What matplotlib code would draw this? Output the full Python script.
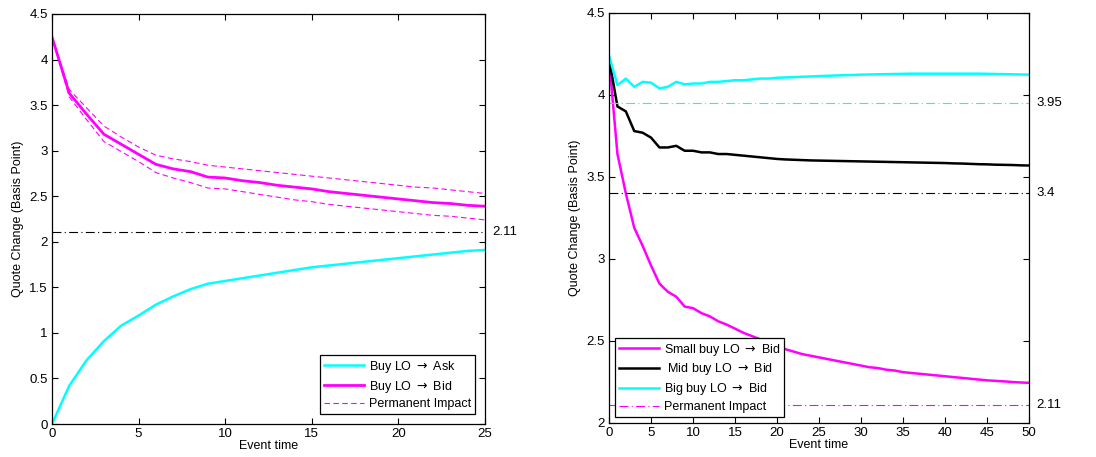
"""Quote change after buy limit orders"""
import matplotlib
matplotlib.use("Agg")
import matplotlib.pyplot as plt

plt.rcParams["font.family"] = ["Liberation Sans", "DejaVu Sans"]
plt.rcParams["mathtext.fontset"] = "dejavusans"

# left panel data
t_left = list(range(26))
ask = [0.00, 0.42, 0.70, 0.91, 1.08, 1.19, 1.31, 1.40, 1.48, 1.54, 1.57, 1.60, 1.63,
       1.66, 1.69, 1.72, 1.74, 1.76, 1.78, 1.80, 1.82, 1.84, 1.86, 1.88, 1.90, 1.91]
bid = [4.25, 3.63, 3.40, 3.18, 3.07, 2.96, 2.85, 2.80, 2.77, 2.71, 2.70, 2.67, 2.65,
       2.62, 2.60, 2.58, 2.55, 2.53, 2.51, 2.49, 2.47, 2.45, 2.43, 2.42, 2.40, 2.39]
bid_up = [4.25, 3.67, 3.47, 3.27, 3.15, 3.04, 2.95, 2.91, 2.88, 2.84, 2.82, 2.80, 2.78,
          2.76, 2.74, 2.72, 2.70, 2.68, 2.66, 2.64, 2.62, 2.60, 2.59, 2.57, 2.55, 2.53]
bid_lo = [4.25, 3.59, 3.34, 3.10, 2.99, 2.88, 2.76, 2.70, 2.65, 2.59, 2.58, 2.55, 2.52,
          2.49, 2.46, 2.44, 2.41, 2.39, 2.37, 2.35, 2.33, 2.31, 2.29, 2.28, 2.26, 2.24]
perm_left = 2.11

# right panel data
t_right = list(range(51))
small = [4.22, 3.64, 3.40, 3.19, 3.08, 2.96, 2.85, 2.80, 2.77, 2.71, 2.70, 2.67, 2.65,
         2.62, 2.60, 2.575, 2.55, 2.53, 2.51, 2.49, 2.465, 2.45, 2.435, 2.42, 2.41, 2.40,
         2.39, 2.38, 2.37, 2.36, 2.35, 2.34, 2.335, 2.325, 2.32, 2.31, 2.305, 2.30, 2.295,
         2.29, 2.285, 2.28, 2.275, 2.27, 2.265, 2.26, 2.257, 2.254, 2.25, 2.247, 2.245]
mid = [4.22, 3.93, 3.90, 3.78, 3.77, 3.74, 3.68, 3.68, 3.69, 3.66, 3.66, 3.65, 3.65,
       3.64, 3.64, 3.635, 3.63, 3.625, 3.62, 3.615, 3.61, 3.607, 3.605, 3.603, 3.601, 3.60,
       3.599, 3.598, 3.597, 3.596, 3.595, 3.594, 3.593, 3.592, 3.591, 3.59, 3.589, 3.588,
       3.587, 3.586, 3.585, 3.583, 3.582, 3.58, 3.578, 3.577, 3.575, 3.574, 3.573, 3.571, 3.57]
big = [4.24, 4.06, 4.10, 4.05, 4.08, 4.075, 4.04, 4.05, 4.08, 4.065, 4.07, 4.07, 4.08,
       4.08, 4.085, 4.09, 4.09, 4.095, 4.10, 4.10, 4.105, 4.107, 4.109, 4.111, 4.113, 4.115,
       4.117, 4.119, 4.121, 4.122, 4.124, 4.125, 4.126, 4.127, 4.128, 4.129, 4.13, 4.13,
       4.13, 4.13, 4.13, 4.13, 4.13, 4.13, 4.13, 4.129, 4.128, 4.127, 4.126, 4.125, 4.124]
perm_small, perm_mid, perm_big = 2.11, 3.4, 3.95

fig = plt.figure(figsize=(10.96, 4.57), dpi=100)
ax1 = fig.add_axes([0.0474, 0.0722, 0.3951, 0.8972])
ax2 = fig.add_axes([0.5557, 0.0744, 0.3832, 0.8972])


def style(ax):
    """matlab look"""
    ax.tick_params(direction="in", top=True, right=True, labelsize=9.5,
                   length=4, width=0.8, pad=3)
    for sp in ax.spines.values():
        sp.set_linewidth(0.9)
    ax.set_xlabel("Event time", fontsize=9, labelpad=0)
    ax.set_ylabel("Quote Change (Basis Point)", fontsize=9, labelpad=4)


# left panel
ax1.plot(t_left, ask, color="cyan", lw=1.8, label=r"Buy LO $\rightarrow$ Ask")
ax1.plot(t_left, bid, color="magenta", lw=2.0, label=r"Buy LO $\rightarrow$ Bid")
ax1.plot(t_left, bid_up, color="magenta", lw=0.8, ls=(0, (5, 3)), label="Permanent Impact")
ax1.plot(t_left, bid_lo, color="magenta", lw=0.8, ls=(0, (5, 3)))
ax1.axhline(perm_left, color="black", lw=0.8, ls=(0, (8, 3, 1, 3)))
ax1.text(25.4, perm_left, str(perm_left), va="center", ha="left", fontsize=9.5)
ax1.set_xlim(0, 25)
ax1.set_ylim(0, 4.5)
ax1.set_yticks([0, 0.5, 1, 1.5, 2, 2.5, 3, 3.5, 4, 4.5])
ax1.set_yticklabels(["0", "0.5", "1", "1.5", "2", "2.5", "3", "3.5", "4", "4.5"])
style(ax1)
leg1 = ax1.legend(loc="lower right", fontsize=9, fancybox=False, edgecolor="black",
                  framealpha=1, handlelength=3.2, borderaxespad=0.8, labelspacing=0.3,
                  borderpad=0.3, handletextpad=0.4)
leg1.get_frame().set_linewidth(0.9)

# right panel
ax2.plot(t_right, small, color="magenta", lw=1.8, label=r"Small buy LO $\rightarrow$ Bid")
ax2.plot(t_right, mid, color="black", lw=1.8, label=r" Mid buy LO $\rightarrow$ Bid")
ax2.plot(t_right, big, color="cyan", lw=1.8, label=r"Big buy LO $\rightarrow$ Bid")
ax2.axhline(perm_small, color="magenta", lw=0.8, ls=(0, (8, 3, 1, 3)), label="Permanent Impact")
ax2.axhline(perm_mid, color="black", lw=0.8, ls=(0, (8, 3, 1, 3)))
ax2.axhline(perm_big, color="cyan", lw=0.8, ls=(0, (8, 3, 1, 3)))
for val in [perm_big, perm_mid, perm_small]:
    ax2.text(50.9, val, str(val), va="center", ha="left", fontsize=9.5)
ax2.set_xlim(0, 50)
ax2.set_ylim(2, 4.5)
ax2.set_xticks(range(0, 51, 5))
ax2.set_yticks([2, 2.5, 3, 3.5, 4, 4.5])
ax2.set_yticklabels(["2", "2.5", "3", "3.5", "4", "4.5"])
style(ax2)
leg2 = ax2.legend(loc="lower left", fontsize=9, fancybox=False, edgecolor="black",
                  framealpha=1, handlelength=3.2, borderaxespad=0.5, labelspacing=0.3,
                  borderpad=0.3, handletextpad=0.4)
leg2.get_frame().set_linewidth(0.9)

fig.savefig("out.png", dpi=100)
